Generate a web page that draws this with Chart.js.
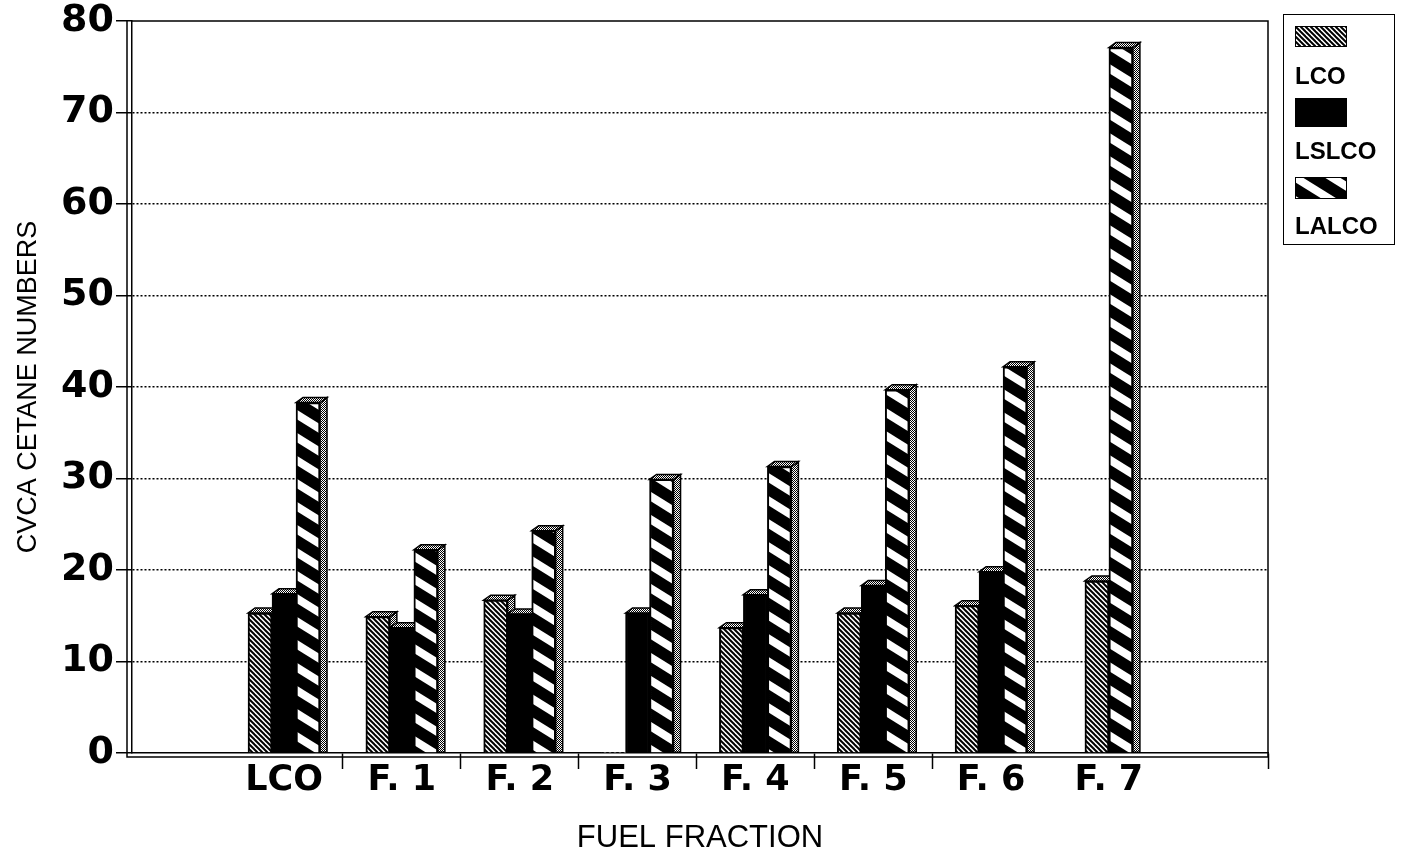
<!DOCTYPE html>
<html><head><meta charset="utf-8">
<script src="https://cdn.jsdelivr.net/npm/chart.js@4.4.1/dist/chart.umd.min.js"></script>
<style>
html,body{margin:0;padding:0;background:#fff;}
#wrap{position:relative;width:1403px;height:862px;background:#fff;}
#c{position:absolute;left:0;top:0;}
#legend{position:absolute;left:1283px;top:14px;width:112px;height:231px;border:1.5px solid #000;box-sizing:border-box;font-family:"Liberation Sans",Arial,sans-serif;font-weight:bold;font-size:24px;color:#000;}
.sw{position:absolute;left:11px;width:52px;border:1px solid #000;box-sizing:border-box;}
.lb{position:absolute;left:11px;line-height:24px;white-space:nowrap;}
</style></head><body>
<div id="wrap">
<canvas id="c" width="1403" height="862"></canvas>
<div id="legend">
  <div class="sw" id="sw0" style="top:11px;height:21px;"></div>
  <div class="lb" style="top:49px;">LCO</div>
  <div class="sw" id="sw1" style="top:83px;height:29px;"></div>
  <div class="lb" style="top:124px;">LSLCO</div>
  <div class="sw" id="sw2" style="top:162px;height:22px;"></div>
  <div class="lb" style="top:199px;">LALCO</div>
</div>
</div>
<script>
// ---- data ----
const categories = ['LCO', 'F. 1', 'F. 2', 'F. 3', 'F. 4', 'F. 5', 'F. 6', 'F. 7'];
const seriesNames = ['LCO', 'LSLCO', 'LALCO'];
const lcoValues   = [15.3, 14.9, 16.7, 0,    13.7, 15.3, 16.1, 18.8];
const lslcoValues = [17.4, 13.7, 15.2, 15.3, 17.3, 18.3, 19.8, null];
const lalcoValues = [38.3, 22.2, 24.3, 29.9, 31.3, 39.7, 42.2, 77.1];
const yTickValues = [0, 10, 20, 30, 40, 50, 60, 70, 80];

// ---- patterns ----
function tile(w, h, draw) {
  const c = document.createElement('canvas');
  c.width = w; c.height = h;
  draw(c.getContext('2d'), w, h);
  return c;
}
const fineHatch = tile(5, 5, (g, w, h) => {
  g.fillStyle = '#fff'; g.fillRect(0, 0, w, h);
  g.strokeStyle = '#000'; g.lineWidth = 2;
  for (let k = -1; k <= 1; k++) {
    g.beginPath(); g.moveTo(k * w - 1, -1); g.lineTo(k * w + w + 1, h + 1); g.stroke();
  }
});
const wideStripe = tile(37, 23, (g, w, h) => {
  g.fillStyle = '#000'; g.fillRect(0, 0, w, h);
  g.strokeStyle = '#fff'; g.lineWidth = 8;
  for (let k = -2; k <= 2; k++) {
    g.beginPath(); g.moveTo(-w, k * h - h); g.lineTo(2 * w, k * h + 2 * h); g.stroke();
  }
});
const checker = tile(2, 2, (g) => {
  g.fillStyle = '#fff'; g.fillRect(0, 0, 2, 2);
  g.fillStyle = '#000'; g.fillRect(0, 0, 1, 1); g.fillRect(1, 1, 1, 1);
});
const cctx = document.getElementById('c').getContext('2d');
const patLCO = cctx.createPattern(fineHatch, 'repeat');
const patLALCO = cctx.createPattern(wideStripe, 'repeat');
const patSide = cctx.createPattern(checker, 'repeat');

document.getElementById('sw0').style.background = 'url(' + fineHatch.toDataURL() + ')';
document.getElementById('sw1').style.background = '#000';
document.getElementById('sw2').style.background = 'url(' + wideStripe.toDataURL() + ')';

const toPoints = arr => arr.map((v, i) => ({x: i, y: v}));

// ---- plugins ----
const DX = 7, DY = 5;
const threeD = {
  id: 'threeD',
  beforeDatasetsDraw(chart) {
    const ctx = chart.ctx;
    chart.data.datasets.forEach((ds, di) => {
      const meta = chart.getDatasetMeta(di);
      meta.data.forEach((bar, i) => {
        const v = ds.data[i].y;
        if (v == null || v <= 0) return;
        const p = bar.getProps(['x', 'y', 'base', 'width'], true);
        const l = p.x - p.width / 2, r = p.x + p.width / 2;
        ctx.save();
        ctx.fillStyle = patSide; ctx.strokeStyle = '#000'; ctx.lineWidth = 1.5;
        ctx.beginPath();
        ctx.moveTo(r, p.base); ctx.lineTo(r, p.y); ctx.lineTo(r + DX, p.y - DY); ctx.lineTo(r + DX, p.base);
        ctx.closePath(); ctx.fill(); ctx.stroke();
        ctx.beginPath();
        ctx.moveTo(l, p.y); ctx.lineTo(l + DX, p.y - DY); ctx.lineTo(r + DX, p.y - DY); ctx.lineTo(r, p.y);
        ctx.closePath(); ctx.fill(); ctx.stroke();
        ctx.restore();
      });
    });
  }
};
const frame = {
  id: 'frame',
  afterDatasetsDraw(chart) {
    const {ctx, chartArea: {left, right, top, bottom}} = chart;
    ctx.save();
    ctx.strokeStyle = '#000'; ctx.lineWidth = 1.5;
    ctx.beginPath();
    ctx.moveTo(left, top); ctx.lineTo(right, top); ctx.lineTo(right, bottom + 4);
    ctx.moveTo(left - 5, top); ctx.lineTo(left - 5, bottom + 4); ctx.lineTo(right, bottom + 4);
    ctx.stroke();
    ctx.restore();
  }
};

// ---- x tick positions: category centres (labelled) and separators ----
const xMin = -1.29, xMax = 8.35;
const xTicks = [];
categories.forEach((c, i) => { xTicks.push(i); if (i < categories.length - 2) xTicks.push(i + 0.5); });
xTicks.push(xMax);

const commonBar = {
  borderColor: '#000',
  borderWidth: ctx => (ctx.parsed && ctx.parsed.y > 0 ? 2 : 0),
  barThickness: 24,
  borderSkipped: 'bottom'
};

new Chart(document.getElementById('c'), {
  type: 'bar',
  data: {
    datasets: [
      Object.assign({label: seriesNames[0], data: toPoints(lcoValues), backgroundColor: patLCO}, commonBar),
      Object.assign({label: seriesNames[1], data: toPoints(lslcoValues), backgroundColor: '#000'}, commonBar),
      Object.assign({label: seriesNames[2], data: toPoints(lalcoValues), backgroundColor: patLALCO}, commonBar)
    ]
  },
  options: {
    responsive: false,
    animation: false,
    skipNull: true,
    layout: {padding: {top: 21, right: 135, left: 0, bottom: 0}},
    plugins: {legend: {display: false}, tooltip: {enabled: false}},
    scales: {
      x: {
        type: 'linear',
        min: xMin, max: xMax,
        offset: false,
        afterBuildTicks: s => { s.ticks = xTicks.map(v => ({value: v})); },
        afterFit: s => { s.height = 109; },
        grid: {
          offset: false, drawOnChartArea: false, drawTicks: true, tickLength: 16,
          color: '#000',
          tickColor: c => (c.tick && Number.isInteger(c.tick.value) ? 'rgba(0,0,0,0)' : '#000'),
          tickWidth: 1.5
        },
        border: {display: true, color: '#000', width: 1.5},
        ticks: {
          autoSkip: false, maxRotation: 0, padding: -9, color: '#000',
          font: {family: '"DejaVu Sans", sans-serif', weight: 'bold', size: 35},
          callback: v => (Number.isInteger(v) && categories[v] !== undefined ? categories[v] : '')
        },
        title: {
          display: true, text: 'FUEL FRACTION', color: '#000',
          font: {family: '"Liberation Sans", Arial, sans-serif', size: 31},
          padding: {top: 0, bottom: 5}
        }
      },
      y: {
        min: 0, max: 80,
        afterBuildTicks: s => { s.ticks = yTickValues.map(v => ({value: v})); },
        afterFit: s => { s.width = 132; },
        grid: {
          color: c => (c.tick && (c.tick.value === 0 || c.tick.value === 80) ? 'rgba(0,0,0,0)' : '#000'),
          lineWidth: 1.5, tickLength: 16, tickColor: '#000', tickWidth: 1.5
        },
        border: {display: true, color: '#000', width: 1.5, dash: [2, 2]},
        ticks: {
          padding: 2, color: '#000',
          font: {family: '"DejaVu Sans", sans-serif', weight: 'bold', size: 38, lineHeight: 1}
        },
        title: {
          display: true, text: 'CVCA CETANE NUMBERS', color: '#000',
          font: {family: '"Liberation Sans", Arial, sans-serif', size: 27},
          padding: {top: 12, bottom: 0}
        }
      }
    }
  },
  plugins: [threeD, frame]
});
</script>
</body></html>
